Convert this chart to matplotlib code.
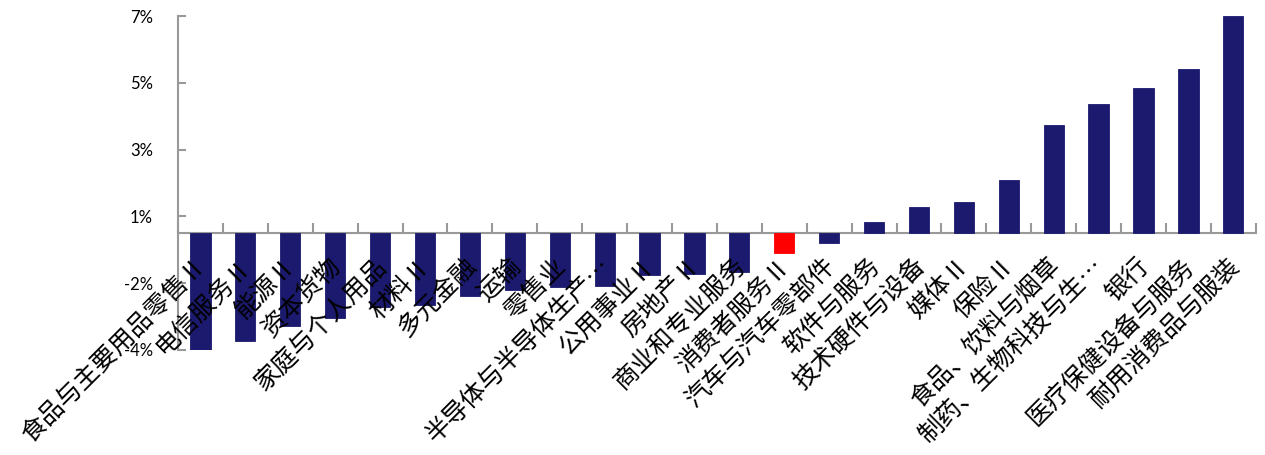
import matplotlib
matplotlib.use("Agg")
import matplotlib.pyplot as plt
import numpy as np

plt.rcParams['font.family'] = ['Noto Sans CJK SC', 'DejaVu Sans']

# Industry names (x-axis categories)
categories = [
    "食品与主要用品零售Ⅱ", "电信服务Ⅱ", "能源Ⅱ", "资本货物", "家庭与个人用品",
    "材料Ⅱ", "多元金融", "运输", "零售业", "半导体与半导体生产…",
    "公用事业Ⅱ", "房地产Ⅱ", "商业和专业服务", "消费者服务Ⅱ", "汽车与汽车零部件",
    "软件与服务", "技术硬件与设备", "媒体Ⅱ", "保险Ⅱ", "食品、饮料与烟草",
    "制药、生物科技与生…", "银行", "医疗保健设备与服务", "耐用消费品与服装",
]

# Return of each industry, in percent
values = [
    -3.50, -3.22, -2.78, -2.55, -2.22,
    -2.14, -1.88, -1.71, -1.61, -1.57,
    -1.26, -1.22, -1.16, -0.61, -0.31,
    0.32, 0.77, 0.94, 1.58, 3.23,
    3.87, 4.35, 4.92, 6.50,
]

highlight = "消费者服务Ⅱ"

# Y-axis tick positions and their displayed labels
ytick_values = [-3.5, -1.5, 0.5, 2.5, 4.5, 6.5]
ytick_labels = ["-4%", "-2%", "1%", "3%", "5%", "7%"]

navy = "#1B1A6E"
red = "#FF0000"
axis_gray = "#999999"

fig = plt.figure(figsize=(12.65, 4.55), dpi=100)
ax = fig.add_axes([0.1407, 0.2308, 0.8520, 0.7340])

x = np.arange(len(categories))
colors = [red if c == highlight else navy for c in categories]
ax.bar(x, values, width=0.45, color=colors, edgecolor=colors, linewidth=0.6, zorder=3)

ax.set_xlim(-0.5, len(categories) - 0.5)
ax.set_ylim(ytick_values[0], ytick_values[-1])

# Spines: left axis and a category axis crossing at zero
for side in ("top", "right"):
    ax.spines[side].set_visible(False)
ax.spines["bottom"].set_position(("data", 0))
for side in ("left", "bottom"):
    ax.spines[side].set_color(axis_gray)
    ax.spines[side].set_linewidth(1.5)
ax.spines["bottom"].set_zorder(2)

ax.set_yticks(ytick_values)
ax.set_yticklabels(ytick_labels, fontfamily="Lato", fontsize=12)
ax.tick_params(axis="y", direction="in", length=6, width=1.5, color=axis_gray, pad=18)

# Category boundary ticks on the zero axis
ax.set_xticks(np.arange(len(categories) + 1) - 0.5)
ax.set_xticklabels([])
ax.tick_params(axis="x", direction="in", length=7, width=1.5, color=axis_gray)

# Rotated category labels hanging below the zero line
for xi, name in zip(x, categories):
    ax.annotate(name, xy=(xi, 0), xycoords="data",
                xytext=(2, -29), textcoords="offset pixels",
                rotation=45, rotation_mode="anchor",
                ha="right", va="center", fontsize=18, color="black",
                annotation_clip=False, zorder=4)

fig.savefig("out.png", dpi=100)
